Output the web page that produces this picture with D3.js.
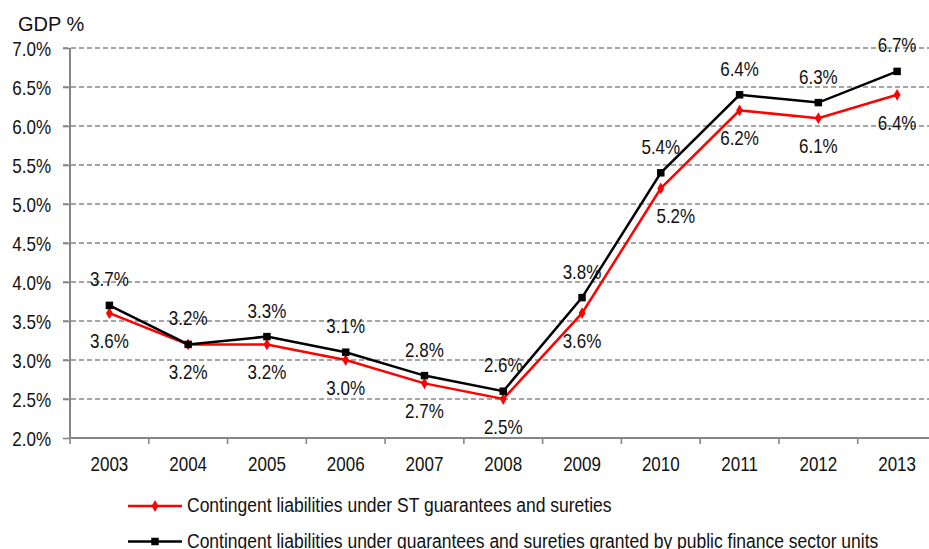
<!DOCTYPE html>
<html>
<head>
<meta charset="utf-8">
<script src="https://cdn.jsdelivr.net/npm/d3@7"></script>
<style>
  html, body { margin: 0; padding: 0; background: #fff; }
  svg { display: block; font-family: "Liberation Sans", Arial, sans-serif; }
</style>
</head>
<body>
<svg id="chart" width="929" height="549"></svg>
<script>
// Contingent liabilities as % of GDP, 2003-2013
const years = ["2003","2004","2005","2006","2007","2008","2009","2010","2011","2012","2013"];
const stGuarantees = [3.6, 3.2, 3.2, 3.0, 2.7, 2.5, 3.6, 5.2, 6.2, 6.1, 6.4];
const publicSectorGuarantees = [3.7, 3.2, 3.3, 3.1, 2.8, 2.6, 3.8, 5.4, 6.4, 6.3, 6.7];
const yTicks = [2.0, 2.5, 3.0, 3.5, 4.0, 4.5, 5.0, 5.5, 6.0, 6.5, 7.0];
const seriesNames = [
  "Contingent liabilities under ST guarantees and sureties",
  "Contingent liabilities under guarantees and sureties granted by public finance sector units"
];

const svg = d3.select("#chart");
const W = 929;
const plotLeft = 70, plotBottom = 438, plotTop = 48;
const FS = 20, SX = 0.85;          // label font size and horizontal squeeze
const grey = "#868686";

const x = d3.scaleBand().domain(years).range([plotLeft, 936.5]).padding(0);
const cx = d => x(d) + x.bandwidth() / 2;
const y = d3.scaleLinear().domain([2, 7]).range([plotBottom, plotTop]);

function label(g, tx, ty, text, anchor, sx) {
  return g.append("text")
    .attr("transform", `translate(${tx},${ty}) scale(${sx || SX},1)`)
    .attr("text-anchor", anchor || "middle")
    .attr("font-size", FS)
    .attr("fill", "#111")
    .text(text);
}

// horizontal dashed gridlines
svg.append("g").selectAll("line")
  .data(yTicks.filter(v => v > 2))
  .join("line")
  .attr("x1", plotLeft - 7).attr("x2", W)
  .attr("y1", d => y(d)).attr("y2", d => y(d))
  .attr("stroke", grey).attr("stroke-width", 1.6)
  .attr("stroke-dasharray", "5,3");

// y axis
const yAxis = svg.append("g")
  .attr("transform", `translate(${plotLeft},0)`)
  .call(d3.axisLeft(y).tickValues(yTicks).tickSize(7).tickFormat(d => d.toFixed(1) + "%"));
yAxis.attr("font-family", null).attr("font-size", null);
yAxis.select(".domain").attr("stroke", grey).attr("stroke-width", 2).attr("d", `M0,${plotTop}V${plotBottom}`);
yAxis.selectAll(".tick line").attr("stroke", grey).attr("stroke-width", 1.6);
yAxis.selectAll(".tick text")
  .attr("x", null).attr("dy", null).attr("y", null)
  .attr("transform", `translate(-19,7.5) scale(${SX},1)`)
  .attr("font-size", FS).attr("fill", "#111");

// x axis line and category boundary ticks
svg.append("line")
  .attr("x1", plotLeft).attr("x2", W).attr("y1", plotBottom).attr("y2", plotBottom)
  .attr("stroke", grey).attr("stroke-width", 2);
svg.append("g").selectAll("line")
  .data(years)
  .join("line")
  .attr("x1", d => x(d)).attr("x2", d => x(d))
  .attr("y1", plotBottom).attr("y2", plotBottom + 6)
  .attr("stroke", grey).attr("stroke-width", 1.6);
const xl = svg.append("g");
years.forEach(yr => label(xl, cx(yr), 471, yr));

// axis unit title
svg.append("text").attr("x", 18).attr("y", 30.5)
  .attr("font-size", FS).attr("fill", "#111").text("GDP %");

// series lines
const line = d3.line().x((d, i) => cx(years[i])).y(d => y(d));
svg.append("path").datum(stGuarantees)
  .attr("d", line).attr("fill", "none").attr("stroke", "#ff0000").attr("stroke-width", 2.5);
svg.append("path").datum(publicSectorGuarantees)
  .attr("d", line).attr("fill", "none").attr("stroke", "#000").attr("stroke-width", 2.5);

// markers
const diamond = d3.symbol().type(d3.symbolDiamond).size(40);
const square = d3.symbol().type(d3.symbolSquare).size(56);
svg.append("g").selectAll("path").data(stGuarantees).join("path")
  .attr("d", diamond)
  .attr("transform", (d, i) => `translate(${cx(years[i])},${y(d)})`)
  .attr("fill", "#ff0000");
svg.append("g").selectAll("path").data(publicSectorGuarantees).join("path")
  .attr("d", square)
  .attr("transform", (d, i) => `translate(${cx(years[i])},${y(d)})`)
  .attr("fill", "#000");

// value labels: public-sector series above, ST series below
const fmt = v => v.toFixed(1) + "%";
const lab = svg.append("g");
publicSectorGuarantees.forEach((v, i) => label(lab, cx(years[i]), y(v) - 26 + 7, fmt(v)));
stGuarantees.forEach((v, i) => {
  const dx = years[i] === "2010" ? 15 : 0;
  label(lab, cx(years[i]) + dx, y(v) + 28 + 7, fmt(v));
});

// legend
const leg = svg.append("g");
[["#ff0000", diamond, 506], ["#000", square, 541.5]].forEach(([c, sym, ly], k) => {
  leg.append("line").attr("x1", 128).attr("x2", 182).attr("y1", ly).attr("y2", ly)
    .attr("stroke", c).attr("stroke-width", 2.5);
  leg.append("path").attr("d", sym).attr("transform", `translate(155,${ly})`).attr("fill", c);
  label(leg, 187, ly + 6, seriesNames[k], "start", 0.875);
});
</script>
</body>
</html>
